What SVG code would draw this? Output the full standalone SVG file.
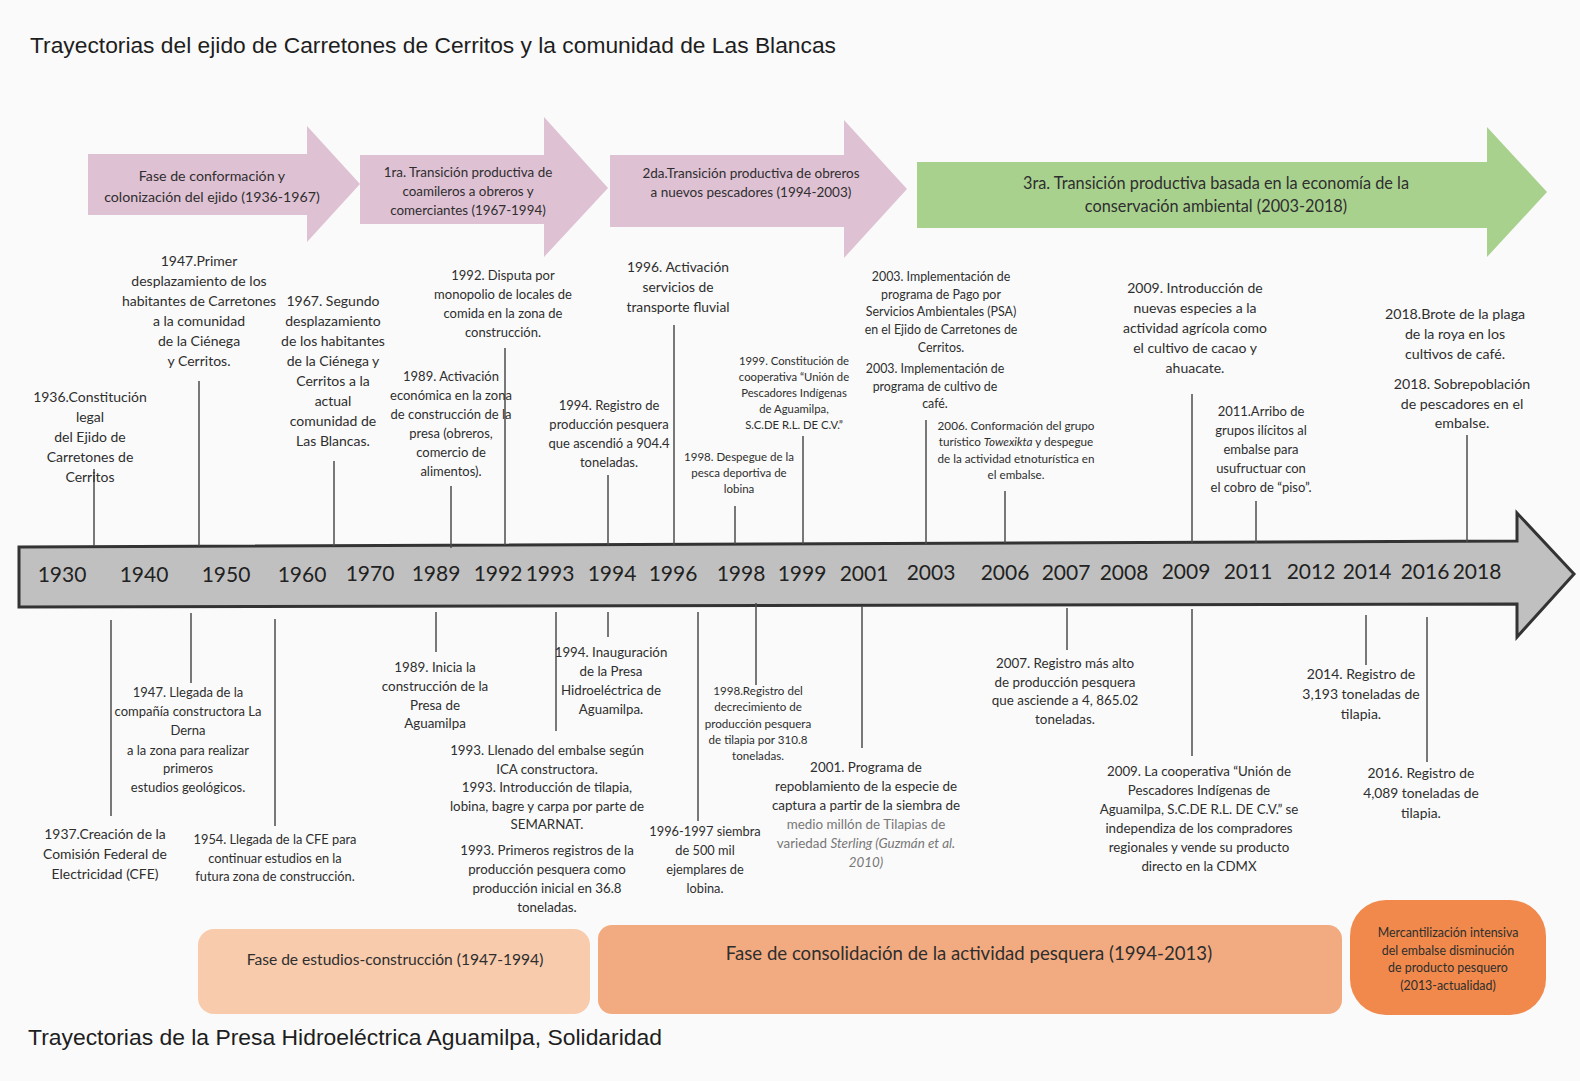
<svg xmlns="http://www.w3.org/2000/svg" width="1580" height="1081" viewBox="0 0 1580 1081">
<style>
.t{font-family:Lato,"Open Sans",sans-serif;fill:#2e2e2e;text-anchor:middle}
.ttl{font-family:"Liberation Sans",Arial,sans-serif;fill:#1e1e1e;font-size:21.5px}
.yr{font-family:Lato,"Open Sans",sans-serif;fill:#222;font-size:21px;text-anchor:middle}
.ln{stroke:#4d4d4d;stroke-width:1.5;fill:none}
.pink{fill:#dfc1d4}
.green{fill:#a9d18e}
.lt{fill:#777}
</style>
<rect x="0" y="0" width="1580" height="1081" fill="#fafafa"/>

<text class="ttl" x="30" y="53" textLength="806" lengthAdjust="spacingAndGlyphs">Trayectorias del ejido de Carretones de Cerritos y la comunidad de Las Blancas</text>
<text class="ttl" x="28" y="1045" textLength="634" lengthAdjust="spacingAndGlyphs">Trayectorias de la Presa Hidroeléctrica Aguamilpa, Solidaridad</text>

<!-- phase arrows -->
<g id="phase1"><polygon class="pink" points="88,154 307,154 307,126 360,184 307,242 307,215 88,215"/>
<text class="t" style="font-size:14.2px" x="212" y="181">Fase de conformación y<tspan x="212" dy="21">colonización del ejido (1936-1967)</tspan></text></g>
<g id="phase2"><polygon class="pink" points="360,155 544,155 544,117 608,188 544,257 544,224 360,224"/>
<text class="t" style="font-size:13.4px" x="468" y="177">1ra. Transición productiva de<tspan x="468" dy="19">coamileros a obreros y</tspan><tspan x="468" dy="19">comerciantes (1967-1994)</tspan></text></g>
<g id="phase3"><polygon class="pink" points="610,155 844,155 844,120 907,189 844,258 844,227 610,227"/>
<text class="t" style="font-size:13.5px" x="751" y="178">2da.Transición productiva de obreros<tspan x="751" dy="19">a nuevos pescadores (1994-2003)</tspan></text></g>
<g id="phase4"><polygon class="green" points="917,162 1487,162 1487,127 1547,192 1487,257 1487,228 917,228"/>
<text class="t" style="font-size:16.3px" x="1216" y="189">3ra. Transición productiva basada en la economía de la<tspan x="1216" dy="23">conservación ambiental (2003-2018)</tspan></text></g>

<!-- timeline -->
<g id="timeline">
<polygon points="19,547 1517,541 1517,513 1574,574 1517,637 1517,604 19,607" fill="#c0c0c0" stroke="#333" stroke-width="3" stroke-linejoin="miter"/>
<text class="yr" x="62" y="582">1930</text>
<text class="yr" x="144" y="582">1940</text>
<text class="yr" x="226" y="582">1950</text>
<text class="yr" x="302" y="582">1960</text>
<text class="yr" x="370" y="581">1970</text>
<text class="yr" x="436" y="581">1989</text>
<text class="yr" x="498" y="581">1992</text>
<text class="yr" x="550" y="581">1993</text>
<text class="yr" x="612" y="581">1994</text>
<text class="yr" x="673" y="581">1996</text>
<text class="yr" x="741" y="581">1998</text>
<text class="yr" x="802" y="581">1999</text>
<text class="yr" x="864" y="581">2001</text>
<text class="yr" x="931" y="580">2003</text>
<text class="yr" x="1005" y="580">2006</text>
<text class="yr" x="1066" y="580">2007</text>
<text class="yr" x="1124" y="580">2008</text>
<text class="yr" x="1186" y="579">2009</text>
<text class="yr" x="1248" y="579">2011</text>
<text class="yr" x="1311" y="579">2012</text>
<text class="yr" x="1367" y="579">2014</text>
<text class="yr" x="1425" y="579">2016</text>
<text class="yr" x="1477" y="579">2018</text>
</g>

<!-- connectors -->
<g id="connectors">
<line class="ln" x1="94" y1="469" x2="94" y2="546"/>
<line class="ln" x1="199" y1="381" x2="199" y2="546"/>
<line class="ln" x1="334" y1="461" x2="334" y2="546"/>
<line class="ln" x1="451" y1="486" x2="451" y2="548"/>
<line class="ln" x1="505" y1="348" x2="505" y2="545"/>
<line class="ln" x1="608" y1="475" x2="608" y2="545"/>
<line class="ln" x1="674" y1="325" x2="674" y2="545"/>
<line class="ln" x1="735" y1="506" x2="735" y2="544"/>
<line class="ln" x1="803" y1="436" x2="803" y2="544"/>
<line class="ln" x1="926" y1="420" x2="926" y2="544"/>
<line class="ln" x1="1005" y1="491" x2="1005" y2="543"/>
<line class="ln" x1="1192" y1="394" x2="1192" y2="543"/>
<line class="ln" x1="1256" y1="501" x2="1256" y2="543"/>
<line class="ln" x1="1467" y1="435" x2="1467" y2="542"/>

<line class="ln" x1="111" y1="620" x2="111" y2="816"/>
<line class="ln" x1="191" y1="613" x2="191" y2="683"/>
<line class="ln" x1="275" y1="619" x2="275" y2="826"/>
<line class="ln" x1="436" y1="612" x2="436" y2="652"/>
<line class="ln" x1="556" y1="612" x2="556" y2="731"/>
<line class="ln" x1="608" y1="612" x2="608" y2="637"/>
<line class="ln" x1="698" y1="612" x2="698" y2="821"/>
<line class="ln" x1="756" y1="603" x2="756" y2="685"/>
<line class="ln" x1="862" y1="606" x2="862" y2="748"/>
<line class="ln" x1="1067" y1="608" x2="1067" y2="650"/>
<line class="ln" x1="1192" y1="609" x2="1192" y2="756"/>
<line class="ln" x1="1366" y1="615" x2="1366" y2="665"/>
<line class="ln" x1="1427" y1="617" x2="1427" y2="762"/>
</g>

<!-- upper events -->
<g id="e1936"><text class="t" style="font-size:14px" x="90" y="402">1936.Constitución<tspan x="90" dy="20">legal</tspan><tspan x="90" dy="20">del Ejido de</tspan><tspan x="90" dy="20">Carretones de</tspan><tspan x="90" dy="20">Cerritos</tspan></text></g>
<g id="e1947a"><text class="t" style="font-size:14px" x="199" y="266">1947.Primer<tspan x="199" dy="20">desplazamiento de los</tspan><tspan x="199" dy="20">habitantes de Carretones</tspan><tspan x="199" dy="20">a la comunidad</tspan><tspan x="199" dy="20">de la Ciénega</tspan><tspan x="199" dy="20">y Cerritos.</tspan></text></g>
<g id="e1967"><text class="t" style="font-size:14px" x="333" y="306">1967. Segundo<tspan x="333" dy="20">desplazamiento</tspan><tspan x="333" dy="20">de los habitantes</tspan><tspan x="333" dy="20">de la Ciénega y</tspan><tspan x="333" dy="20">Cerritos a la</tspan><tspan x="333" dy="20">actual</tspan><tspan x="333" dy="20">comunidad de</tspan><tspan x="333" dy="20">Las Blancas.</tspan></text></g>
<g id="e1989a"><text class="t" style="font-size:13px" x="451" y="381">1989. Activación<tspan x="451" dy="19">económica en la zona</tspan><tspan x="451" dy="19">de construcción de la</tspan><tspan x="451" dy="19">presa (obreros,</tspan><tspan x="451" dy="19">comercio de</tspan><tspan x="451" dy="19">alimentos).</tspan></text></g>
<g id="e1992"><text class="t" style="font-size:13px" x="503" y="280">1992. Disputa por<tspan x="503" dy="19">monopolio de locales de</tspan><tspan x="503" dy="19">comida en la zona de</tspan><tspan x="503" dy="19">construcción.</tspan></text></g>
<g id="e1994a"><text class="t" style="font-size:13px" x="609" y="410">1994. Registro de<tspan x="609" dy="19">producción pesquera</tspan><tspan x="609" dy="19">que ascendió a 904.4</tspan><tspan x="609" dy="19">toneladas.</tspan></text></g>
<g id="e1996"><text class="t" style="font-size:13.8px" x="678" y="272">1996. Activación<tspan x="678" dy="20">servicios de</tspan><tspan x="678" dy="20">transporte fluvial</tspan></text></g>
<g id="e1998a"><text class="t" style="font-size:11.5px" x="739" y="461">1998. Despegue de la<tspan x="739" dy="16">pesca deportiva de</tspan><tspan x="739" dy="16">lobina</tspan></text></g>
<g id="e1999"><text class="t" style="font-size:11.3px" x="794" y="365">1999. Constitución de<tspan x="794" dy="16">cooperativa “Unión de</tspan><tspan x="794" dy="16">Pescadores Indígenas</tspan><tspan x="794" dy="16">de Aguamilpa,</tspan><tspan x="794" dy="16">S.C.DE R.L. DE C.V.”</tspan></text></g>
<g id="e2003"><text class="t" style="font-size:12.4px" x="941" y="281">2003. Implementación de<tspan x="941" dy="17.7">programa de Pago por</tspan><tspan x="941" dy="17.7">Servicios Ambientales (PSA)</tspan><tspan x="941" dy="17.7">en el Ejido de Carretones de</tspan><tspan x="941" dy="17.7">Cerritos.</tspan></text>
<text class="t" style="font-size:12.4px" x="935" y="373">2003. Implementación de<tspan x="935" dy="17.5">programa de cultivo de</tspan><tspan x="935" dy="17.5">café.</tspan></text></g>
<g id="e2006"><text class="t" style="font-size:11.7px" x="1016" y="430">2006. Conformación del grupo<tspan x="1016" dy="16.3">turístico <tspan font-style="italic">Towexikta</tspan> y despegue</tspan><tspan x="1016" dy="16.3">de la actividad etnoturística en</tspan><tspan x="1016" dy="16.3">el embalse.</tspan></text></g>
<g id="e2009a"><text class="t" style="font-size:14px" x="1195" y="293">2009. Introducción de<tspan x="1195" dy="20">nuevas especies a la</tspan><tspan x="1195" dy="20">actividad agrícola como</tspan><tspan x="1195" dy="20">el cultivo de cacao y</tspan><tspan x="1195" dy="20">ahuacate.</tspan></text></g>
<g id="e2011"><text class="t" style="font-size:13px" x="1261" y="416">2011.Arribo de<tspan x="1261" dy="19">grupos ilícitos al</tspan><tspan x="1261" dy="19">embalse para</tspan><tspan x="1261" dy="19">usufructuar con</tspan><tspan x="1261" dy="19">el cobro de “piso”.</tspan></text></g>
<g id="e2018"><text class="t" style="font-size:14.2px" x="1455" y="319">2018.Brote de la plaga<tspan x="1455" dy="20">de la roya en los</tspan><tspan x="1455" dy="20">cultivos de café.</tspan></text>
<text class="t" style="font-size:14.2px" x="1462" y="389">2018. Sobrepoblación<tspan x="1462" dy="19.5">de pescadores en el</tspan><tspan x="1462" dy="19.5">embalse.</tspan></text></g>

<!-- lower events -->
<g id="e1937"><text class="t" style="font-size:13.9px" x="105" y="839">1937.Creación de la<tspan x="105" dy="20">Comisión Federal de</tspan><tspan x="105" dy="20">Electricidad (CFE)</tspan></text></g>
<g id="e1947b"><text class="t" style="font-size:13px" x="188" y="697">1947. Llegada de la<tspan x="188" dy="19">compañía constructora La</tspan><tspan x="188" dy="19">Derna</tspan><tspan x="188" dy="19.5">a la zona para realizar</tspan><tspan x="188" dy="18.5">primeros</tspan><tspan x="188" dy="19">estudios geológicos.</tspan></text></g>
<g id="e1954"><text class="t" style="font-size:12.8px" x="275" y="844">1954. Llegada de la CFE para<tspan x="275" dy="18.5">continuar estudios en la</tspan><tspan x="275" dy="18.5">futura zona de construcción.</tspan></text></g>
<g id="e1989b"><text class="t" style="font-size:13.4px" x="435" y="672">1989. Inicia la<tspan x="435" dy="18.8">construcción de la</tspan><tspan x="435" dy="18.8">Presa de</tspan><tspan x="435" dy="18.8">Aguamilpa</tspan></text></g>
<g id="e1993"><text class="t" style="font-size:13.3px" x="547" y="755">1993. Llenado del embalse según<tspan x="547" dy="18.5">ICA constructora.</tspan><tspan x="547" dy="18.5">1993. Introducción de tilapia,</tspan><tspan x="547" dy="18.5">lobina, bagre y carpa por parte de</tspan><tspan x="547" dy="18.5">SEMARNAT.</tspan></text>
<text class="t" style="font-size:13.3px" x="547" y="855">1993. Primeros registros de la<tspan x="547" dy="19">producción pesquera como</tspan><tspan x="547" dy="19">producción inicial en 36.8</tspan><tspan x="547" dy="19">toneladas.</tspan></text></g>
<g id="e1994b"><text class="t" style="font-size:13.3px" x="611" y="657">1994. Inauguración<tspan x="611" dy="19">de la Presa</tspan><tspan x="611" dy="19">Hidroeléctrica de</tspan><tspan x="611" dy="19">Aguamilpa.</tspan></text></g>
<g id="e1996b"><text class="t" style="font-size:12.8px" x="705" y="836">1996-1997 siembra<tspan x="705" dy="19">de 500 mil</tspan><tspan x="705" dy="19">ejemplares de</tspan><tspan x="705" dy="19">lobina.</tspan></text></g>
<g id="e1998b"><text class="t" style="font-size:11.6px" x="758" y="695">1998.Registro del<tspan x="758" dy="16.3">decrecimiento de</tspan><tspan x="758" dy="16.3">producción pesquera</tspan><tspan x="758" dy="16.3">de tilapia por 310.8</tspan><tspan x="758" dy="16.3">toneladas.</tspan></text></g>
<g id="e2001"><text class="t" style="font-size:13.4px" x="866" y="772">2001. Programa de<tspan x="866" dy="19">repoblamiento de la especie de</tspan><tspan x="866" dy="19">captura a partir de la siembra de</tspan><tspan class="lt" x="866" dy="19">medio millón de Tilapias de</tspan><tspan class="lt" x="866" dy="19">variedad <tspan font-style="italic">Sterling (Guzmán et al.</tspan></tspan><tspan class="lt" font-style="italic" x="866" dy="19">2010)</tspan></text></g>
<g id="e2007"><text class="t" style="font-size:13.4px" x="1065" y="668">2007. Registro más alto<tspan x="1065" dy="18.7">de producción pesquera</tspan><tspan x="1065" dy="18.7">que asciende a 4, 865.02</tspan><tspan x="1065" dy="18.7">toneladas.</tspan></text></g>
<g id="e2009b"><text class="t" style="font-size:13.3px" x="1199" y="776">2009. La cooperativa “Unión de<tspan x="1199" dy="19">Pescadores Indígenas de</tspan><tspan x="1199" dy="19">Aguamilpa, S.C.DE R.L. DE C.V.” se</tspan><tspan x="1199" dy="19">independiza de los compradores</tspan><tspan x="1199" dy="19">regionales y vende su producto</tspan><tspan x="1199" dy="19">directo en la CDMX</tspan></text></g>
<g id="e2014"><text class="t" style="font-size:14px" x="1361" y="679">2014. Registro de<tspan x="1361" dy="20">3,193 toneladas de</tspan><tspan x="1361" dy="20">tilapia.</tspan></text></g>
<g id="e2016"><text class="t" style="font-size:13.8px" x="1421" y="778">2016. Registro de<tspan x="1421" dy="20">4,089 toneladas de</tspan><tspan x="1421" dy="20">tilapia.</tspan></text></g>

<!-- bottom phases -->
<g id="dam1"><rect x="198" y="929" width="392" height="85" rx="16" fill="#f8cbad"/>
<text class="t" style="font-size:15.6px" x="395" y="965">Fase de estudios-construcción (1947-1994)</text></g>
<g id="dam2"><rect x="598" y="925" width="744" height="89" rx="14" fill="#f2ab80"/>
<text class="t" style="font-size:18.6px" x="969" y="960">Fase de consolidación de la actividad pesquera (1994-2013)</text></g>
<g id="dam3"><rect x="1350" y="900" width="196" height="115" rx="36" fill="#f0894b"/>
<text class="t" style="font-size:12.4px" x="1448" y="937">Mercantilización intensiva<tspan x="1448" dy="17.5">del embalse disminución</tspan><tspan x="1448" dy="17.5">de producto pesquero</tspan><tspan x="1448" dy="17.5">(2013-actualidad)</tspan></text></g>
</svg>
